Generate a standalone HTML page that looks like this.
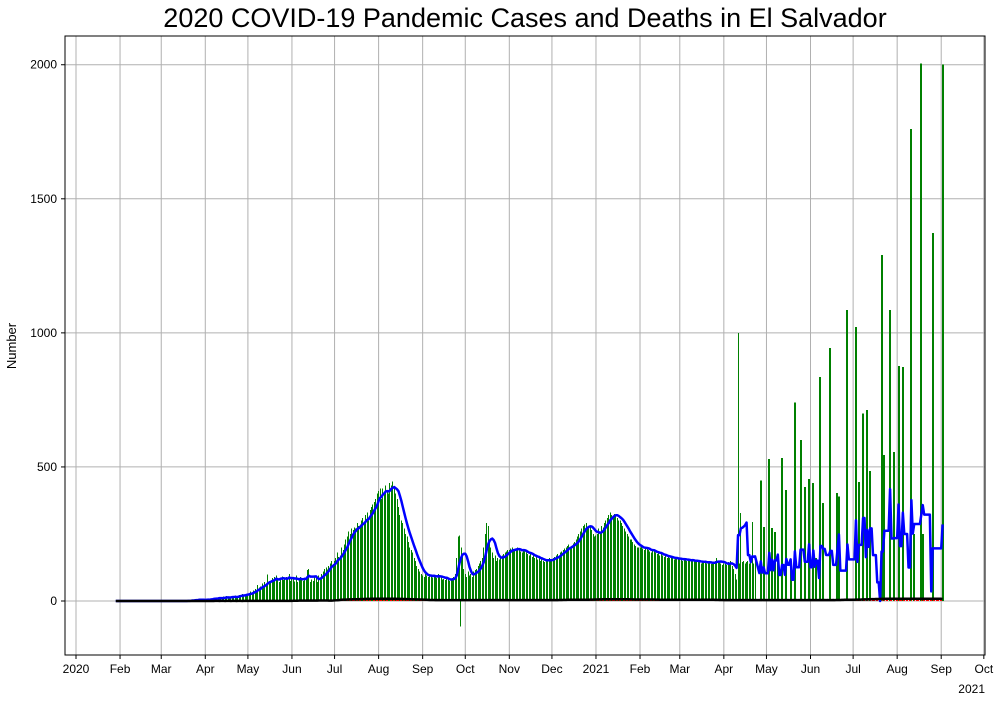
<!DOCTYPE html>
<html><head><meta charset="utf-8"><style>
body{margin:0;background:#fff}
svg text{font-family:"Liberation Sans",sans-serif;fill:#000}
</style></head><body>
<svg id="chart" width="1000" height="700" viewBox="0 0 1000 700" xmlns="http://www.w3.org/2000/svg">
<rect width="1000" height="700" fill="#fff"/>
<text x="525" y="27" font-size="27" text-anchor="middle">2020 COVID-19 Pandemic Cases and Deaths in El Salvador</text>
<text x="16" y="346" font-size="13" text-anchor="middle" transform="rotate(-90 16 346)">Number</text>
<g id="grid"></g><g id="bars" shape-rendering="crispEdges"></g><g id="lines"></g><g id="axes"></g>
</svg>
<script>
// Day index 0 = 2020-01-01
const denseStart = 77; // 2020-03-18
const denseCases = [
1,0,2,1,3,5,2,6,5,3,8,2,6,2,
4,6,8,5,10,9,12,8,10,12,14,10,8,16,14,18,15,12,10,16,18,20,14,18,22,20,26,24,22,25,
28,30,35,30,40,45,38,60,50,55,65,58,70,62,98,75,70,85,72,90,95,80,70,88,92,78,85,90,80,100,75,
88,80,72,95,70,85,90,80,75,85,92,115,120,70,80,75,88,95,70,95,80,100,110,120,125,118,130,140,150,138,
150,160,180,165,170,200,190,210,230,240,260,250,270,265,275,270,290,280,285,300,310,295,320,330,300,340,350,360,370,380,400,
410,420,380,420,400,430,410,400,440,430,445,420,400,380,350,320,300,290,270,250,240,220,200,190,180,160,150,130,120,110,100,
95,90,100,95,90,100,92,88,95,90,85,100,95,88,80,82,78,85,80,75,80,85,90,100,160,240,245,200,170,120,
100,90,110,95,100,90,110,115,120,130,140,150,160,200,250,290,280,230,200,180,160,170,150,160,155,165,170,175,180,185,190,
190,195,200,185,190,195,200,190,185,180,190,185,180,175,170,175,165,170,160,165,155,160,150,155,150,145,150,155,160,150,
155,160,165,170,175,170,180,185,190,195,200,205,210,200,205,215,220,230,240,250,260,270,280,285,290,270,280,275,265,250,240,
245,250,270,260,280,275,290,300,310,320,330,320,315,325,320,310,300,300,290,280,270,260,250,240,230,230,220,210,205,200,200,
200,205,195,190,200,195,190,185,180,190,185,180,175,180,170,175,170,165,170,160,165,160,165,160,155,160,158,155,
155,160,150,155,158,150,152,150,148,155,150,145,150,148,145,140,150,145,148,140,142,145,138,140,145,150,160,150,145,140,135,
140,138,135,145,140,150,130,120,100,80,
1000,140,328,145,150,140,145,150,140,145,295,140,150];
const sparseDays =  [482,484,488,490,492,494,497,500,503,506,510,513,516,519,521,524,526,531,536,537,543,549,551,554,557,559,567,569,573,576,579,582,588,590,595,596,603,610];
const sparseCases = [450,276,530,272,258,150,533,414,140,740,600,425,455,440,160,836,366,944,403,390,1086,1022,444,700,712,485,1290,545,1086,556,877,873,1760,250,2005,250,1373,2000];
const negDays = [270];
const negCases = [-95];
const endDay = 610;
const deathDigits =
"00000000001000"+
"000100010001000100010001000100"+
"1010101010101010101010101010101"+
"121212121213121212132121212123"+
"4545656567676767878787989898989"+
"9898989898987878787676765656565"+
"444343434343434334343343434343"+
"3434343434343434343434343434343"+
"343434343434343434343434343434"+
"3434345454545454545454545656565"+
"6767676767676767676767656565656"+
"5656565656545454545454545454"+
"4545454545454545454545454343434"+
"3434343434"+
"3434343434343434343434343434343434343434343434343434343434343434343434"+
"45454545454656565676767878787898989898989898989898989898989898989898989898";
const yTicks = [0,500,1000,1500,2000];
const xTickDays = [0,31,60,91,121,152,182,213,244,274,305,335,366,397,425,456,486,517,547,578,609,639];
const xTickLabels = ["2020","Feb","Mar","Apr","May","Jun","Jul","Aug","Sep","Oct","Nov","Dec","2021","Feb","Mar","Apr","May","Jun","Jul","Aug","Sep","Oct"];

const X0=65,X1=985,Y0=36,Y1=655;
const xs = d => 76 + d*1.4207;
const ys = v => 601 - v*0.26813;
const NS="http://www.w3.org/2000/svg";
function mk(tag,attrs,parent){const e=document.createElementNS(NS,tag);for(const k in attrs)e.setAttribute(k,attrs[k]);parent.appendChild(e);return e;}

const cases = [];
for(let d=0; d<=endDay; d++) cases[d]=0;
denseCases.forEach((v,i)=>{cases[denseStart+i]=v;});
sparseDays.forEach((d,i)=>{cases[d]=sparseCases[i];});
const deaths=[];
for(let d=0; d<=endDay; d++) deaths[d]=0;
for(let i=0;i<deathDigits.length && denseStart+i<=endDay;i++) deaths[denseStart+i]=+deathDigits[i];

const grid=document.getElementById('grid'),bars=document.getElementById('bars'),lines=document.getElementById('lines'),axes=document.getElementById('axes');
xTickDays.forEach((d,i)=>{
  const x=xs(d);
  const g=mk('line',{x1:x,x2:x,y1:Y0,y2:Y1,stroke:'#b0b0b0','stroke-width':1},grid);
  
  
  const t=mk('line',{x1:x,x2:x,y1:Y1,y2:Y1+4,stroke:'#000','stroke-width':1},axes);
  
  
  const l=mk('text',{x:x,y:Y1+18,'font-size':12,'text-anchor':'middle'},axes);
  l.textContent=xTickLabels[i];
  
  
});
yTicks.forEach(v=>{
  const y=ys(v);
  const g=mk('line',{x1:X0,x2:X1,y1:y,y2:y,stroke:'#b0b0b0','stroke-width':1},grid);
  
  
  const t=mk('line',{x1:X0-4,x2:X0,y1:y,y2:y,stroke:'#000'},axes);
  
  
  const l=mk('text',{x:X0-8,y:y+4,'font-size':12,'text-anchor':'end'},axes);
  l.textContent=v;
  
  
});
const off=mk('text',{x:985,y:693,'font-size':12,'text-anchor':'end'},axes);
off.textContent='2021';


mk('rect',{x:X0,y:Y0,width:X1-X0,height:Y1-Y0,fill:'none',stroke:'#000','stroke-width':1},axes);

for(let d=0; d<=endDay; d++){
  if(cases[d]>0){
    const w = sparseDays.includes(d)?2:1;
    const r=mk('rect',{x:Math.round(xs(d)-w/2),y:ys(cases[d]),width:w,height:ys(0)-ys(cases[d]),fill:'#008000'},bars);
    
    
  }
  if(deaths[d]>0){
    const r=mk('rect',{x:Math.round(xs(d)),y:ys(deaths[d]),width:1,height:ys(0)-ys(deaths[d]),fill:'red'},bars);
    
    
  }
}
negDays.forEach((d,i)=>{
  const r=mk('rect',{x:Math.round(xs(d)),y:ys(0),width:1,height:ys(negCases[i])-ys(0),fill:'#008000'},bars);
  
  
});
function roll(a,d){let s=0;for(let k=d-6;k<=d;k++){if(k>=0){s+=a[k];}}return s/7;}
const firstDay=28;
let pc='',pd='';
for(let d=firstDay; d<=endDay; d++){
  pc+=(d===firstDay?'M':'L')+xs(d).toFixed(2)+','+ys(roll(cases,d)).toFixed(2);
  pd+=(d===firstDay?'M':'L')+xs(d).toFixed(2)+','+ys(roll(deaths,d)).toFixed(2);
}
const lc=mk('path',{d:pc,fill:'none',stroke:'#0000ff','stroke-width':2.5,'stroke-linejoin':'round'},lines);


const ld=mk('path',{d:pd,fill:'none',stroke:'#000','stroke-width':2.5},lines);


</script>
</body></html>
